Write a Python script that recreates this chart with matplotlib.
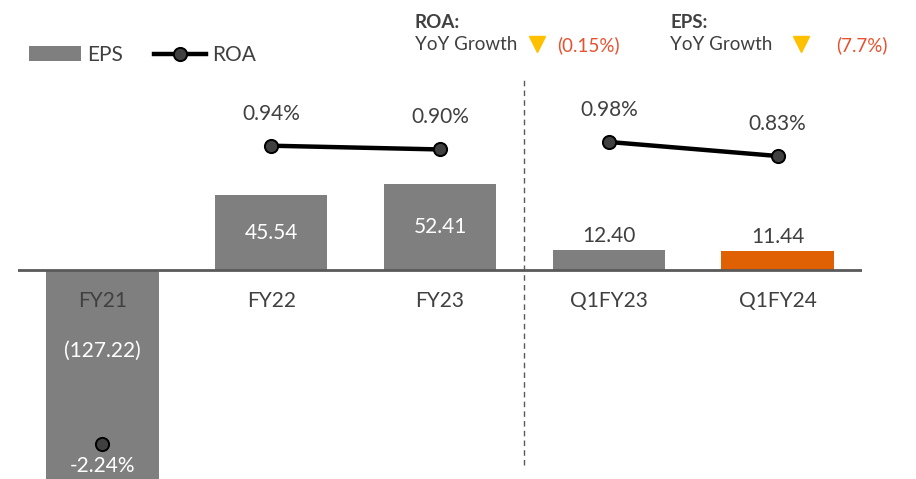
"""EPS bars with ROA overlay, annual vs. Q1 comparison."""

import matplotlib

matplotlib.use("Agg")
import matplotlib.pyplot as plt
from matplotlib.lines import Line2D
from matplotlib.patches import Patch

plt.rcParams["font.family"] = ["Lato", "DejaVu Sans"]

periods = ["FY21", "FY22", "FY23", "Q1FY23", "Q1FY24"]
eps = [-127.22, 45.54, 52.41, 12.40, 11.44]
roa = [-2.24, 0.94, 0.90, 0.98, 0.83]
# ROA points are only joined within the annual block and within the Q1 block
roa_groups = [[0], [1, 2], [3, 4]]

roa_yoy = "(0.15%)"
eps_yoy = "(7.7%)"

GREY = "#7f7f7f"
ORANGE = "#df6103"
TEXT = "#404040"
RED = "#e8502e"
AMBER = "#ffc000"

bar_colors = [GREY, GREY, GREY, GREY, ORANGE]

fig = plt.figure(figsize=(9.16, 4.79), dpi=100)
ax = fig.add_axes([18 / 916, 0, 844 / 916, 1])
ax2 = ax.twinx()

xs = list(range(len(periods)))
ax.bar(xs, eps, width=0.665, color=bar_colors, zorder=2)
ax.axhline(0, color="#595959", lw=2, zorder=3)
ax.set_xlim(-0.5, 4.5)
ax.set_ylim(-127.4, 164.6)
ax2.set_ylim(-2.617, 2.495)

for a in (ax, ax2):
    a.axis("off")

# split between full-year and quarterly figures
ax.plot([2.5, 2.5], [1 - 465 / 479, 1 - 80 / 479], transform=ax.get_xaxis_transform(),
        color="#595959", lw=1, ls=(0, (4, 3)), zorder=1)

fs = 15
for i, (p, v) in enumerate(zip(periods, eps)):
    ax.annotate(p, (i, 0), xytext=(0, -31), textcoords="offset pixels",
                ha="center", va="center", fontsize=fs, color=TEXT, zorder=4)
    if v < 0:
        ax.annotate(f"({abs(v):.2f})", (i, 0), xytext=(0, -81),
                    textcoords="offset pixels", ha="center", va="center",
                    fontsize=fs, color="white", zorder=4)
    elif v > 30:
        ax.text(i, v / 2, f"{v:.2f}", ha="center", va="center",
                fontsize=fs, color="white", zorder=4)
    else:
        ax.annotate(f"{v:.2f}", (i, v), xytext=(0, 14), textcoords="offset pixels",
                    ha="center", va="center", fontsize=fs, color=TEXT, zorder=4)

for grp in roa_groups:
    ax2.plot([xs[k] for k in grp], [roa[k] for k in grp], color="black", lw=3.2,
             marker="o", ms=9.5, mfc="#404040", mec="black", mew=1.4, zorder=5,
             solid_capstyle="round")

for i, v in enumerate(roa):
    if v < 0:
        ax2.annotate(f"{v:.2f}%", (i, v), xytext=(0, -22), textcoords="offset pixels",
                     ha="center", va="center", fontsize=fs, color="white")
    else:
        ax2.annotate(f"{v:.2f}%", (i, v), xytext=(0, 32), textcoords="offset pixels",
                     ha="center", va="center", fontsize=fs, color=TEXT)

handles = [
    Patch(facecolor=GREY, edgecolor="none", label="EPS"),
    Line2D([], [], color="black", lw=3.2, marker="o", ms=9.5, mfc="#404040",
           mec="black", mew=1.4, label="ROA"),
]
fig.legend(handles=handles, loc="center left", bbox_to_anchor=(10 / 916, 1 - 55 / 479),
           ncol=2, frameon=False, fontsize=fs, handlelength=2.5, handletextpad=0.3,
           columnspacing=1.5, labelcolor=TEXT)


def yoy_block(x0, tri_x, val_x, title, value):
    fig.text(x0 / 916, 1 - 22 / 479, title, fontsize=13.5, fontweight="bold",
             color=TEXT, va="center")
    fig.text(x0 / 916, 1 - 45 / 479, "YoY Growth", fontsize=13.5, color=TEXT, va="center")
    fig.add_artist(Line2D([tri_x / 916], [1 - 44 / 479], transform=fig.transFigure,
                          marker="v", ms=11, color=AMBER, mec=AMBER, ls="none"))
    fig.text(val_x / 916, 1 - 45 / 479, value, fontsize=13.5, color=RED, va="center")


yoy_block(415, 537, 557, "ROA:", roa_yoy)
yoy_block(670, 801, 836, "EPS:", eps_yoy)

fig.savefig("out.png", dpi=100)
